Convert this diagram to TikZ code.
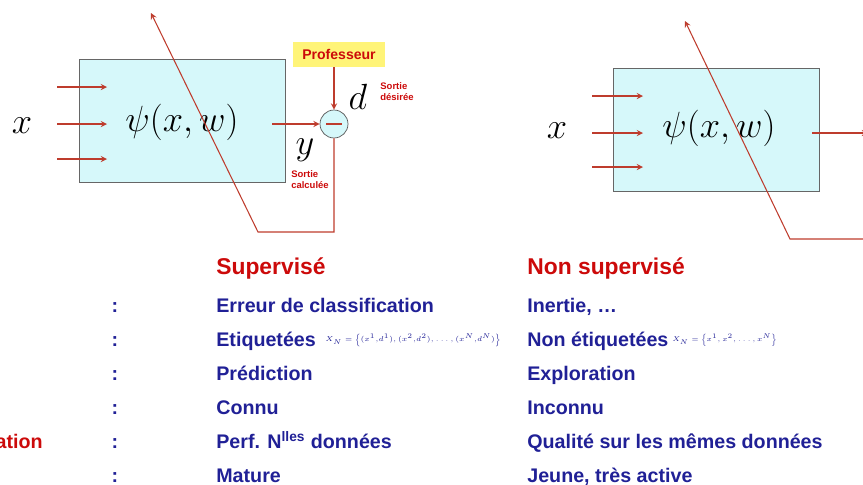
\documentclass[tikz,border=0pt]{standalone}
\usepackage{amsmath, amssymb}
\usepackage{fontspec}
\setsansfont{Liberation Sans}
\usepackage{tikz}
\usetikzlibrary{positioning}

\definecolor{rouge}{RGB}{204,10,10}
\definecolor{bleu}{RGB}{32,32,150}
\definecolor{trait}{RGB}{190,60,45}
\definecolor{cyanclair}{RGB}{214,248,250}
\definecolor{jaune}{RGB}{255,244,120}

\tikzset{
  bloc/.style={draw=gray!80!black, fill=cyanclair, minimum width=4.12cm, minimum height=2.46cm, inner sep=0pt},
  fleche/.style={->, draw=trait, line width=0.6pt},
  somme/.style={circle, draw=gray!70!black, fill=cyanclair, minimum size=0.56cm, inner sep=0pt},
  titre/.style={anchor=base west, inner sep=0pt, text=rouge, font=\sffamily\bfseries\fontsize{13}{15}\selectfont},
  ligne/.style={anchor=base west, inner sep=0pt, text=bleu, font=\sffamily\bfseries\fontsize{11.2}{13}\selectfont},
  formule/.style={anchor=west, inner sep=0pt, text=bleu, font=\fontsize{5}{6}\selectfont},
  petit/.style={text=rouge, font=\sffamily\bfseries\fontsize{5.4}{6.2}\selectfont, align=left},
}

\begin{document}
\begin{tikzpicture}[>=stealth, x=0.02cm, y=-0.02cm]
  \useasboundingbox (0,0) rectangle (863,484);

  % apprentissage supervise
  \node[bloc] (sys1) at (182.5,120.5) {};
  \node at (182,122) {\fontsize{22}{24}\selectfont$\psi(x{,}\,w)$};
  \node at (22,126) {\fontsize{21}{24}\selectfont$x$};
  \foreach \yy in {87,124,159}
    \draw[fleche] (57,\yy) -- (107,\yy);
  \node[somme] (err) at (334,124) {};
  \draw[trait, line width=0.6pt] ([xshift=-4.5pt]err.center) -- ([xshift=4.5pt]err.center);
  \node[fill=jaune, text=rouge, font=\sffamily\bfseries\fontsize{8}{9}\selectfont, minimum width=1.84cm, minimum height=0.5cm] (prof) at (339,54.5) {Professeur};
  \draw[fleche] (prof.south -| err) -- (err.north);
  \coordinate (sortie1) at (272,124);
  \draw[fleche] (sortie1) -- (err.west);
  \node at (358,97) {\fontsize{22}{24}\selectfont$d$};
  \node at (305,150) {\fontsize{22}{24}\selectfont$y$};
  \node[petit] (desir) at (397,92) {Sortie\\désirée};
  \node[petit] (calc) at (310,180) {Sortie\\calculée};
  \coordinate (coin1) at (258,232);
  \coordinate (haut1) at (151,13);
  \draw[fleche] (err.south) |- (coin1) -- (haut1);

  % apprentissage non supervise
  \node[bloc] (sys2) at (716.5,129.5) {};
  \node at (719,128) {\fontsize{22}{24}\selectfont$\psi(x{,}\,w)$};
  \node at (557,131) {\fontsize{21}{24}\selectfont$x$};
  \foreach \yy in {96,133,167}
    \draw[fleche] (592,\yy) -- (643,\yy);
  \coordinate (sortie2) at (812,133);
  \coordinate (bord2) at (868,133);
  \draw[fleche] (sortie2) -- (bord2);
  \coordinate (coin2) at (790,239);
  \coordinate (bord3) at (863,239);
  \coordinate (haut2) at (685,21);
  \draw[fleche] (bord3) -- (coin2) -- (haut2);

  % tableau
  \node[titre] (sup) at (216,274) {Supervisé};
  \node[titre] (nsup) at (527,274) {Non supervisé};
  \foreach \yy in {312,346,380,414,448,482}
    \node[anchor=base, inner sep=0pt, text=bleu, font=\sffamily\bfseries\fontsize{11.2}{13}\selectfont] at (115,\yy) {:};
  \node[anchor=base east, inner sep=0pt, text=rouge, font=\sffamily\bfseries\fontsize{11.2}{13}\selectfont] (gen) at (43,448) {ation};

  \node[ligne] (s1) at (216,312) {Erreur de classification};
  \node[ligne] (s2) at (216,346) {Etiquetées};
  \node[formule] (f1) at (325,340) {\scalebox{0.8}{$X_N=\Bigl\{(x^1{,}d^1),(x^2{,}d^2),\ldots,(x^N{,}d^N)\Bigr\}$}};
  \node[ligne] (s3) at (216,380) {Prédiction};
  \node[ligne] (s4) at (216,414) {Connu};
  \node[ligne] (s5) at (216,448) {Perf. N\textsuperscript{lles} données};
  \node[ligne] (s6) at (216,482) {Mature};

  \node[ligne] (n1) at (527,312) {Inertie, \dots};
  \node[ligne] (n2) at (527,346) {Non étiquetées};
  \node[formule] (f2) at (672,340) {\scalebox{0.78}{$X_N=\Bigl\{x^1,x^2,\ldots,x^N\Bigr\}$}};
  \node[ligne] (n3) at (527,380) {Exploration};
  \node[ligne] (n4) at (527,414) {Inconnu};
  \node[ligne] (n5) at (527,448) {Qualité sur les mêmes données};
  \node[ligne] (n6) at (527,482) {Jeune, très active};
\end{tikzpicture}
\end{document}
